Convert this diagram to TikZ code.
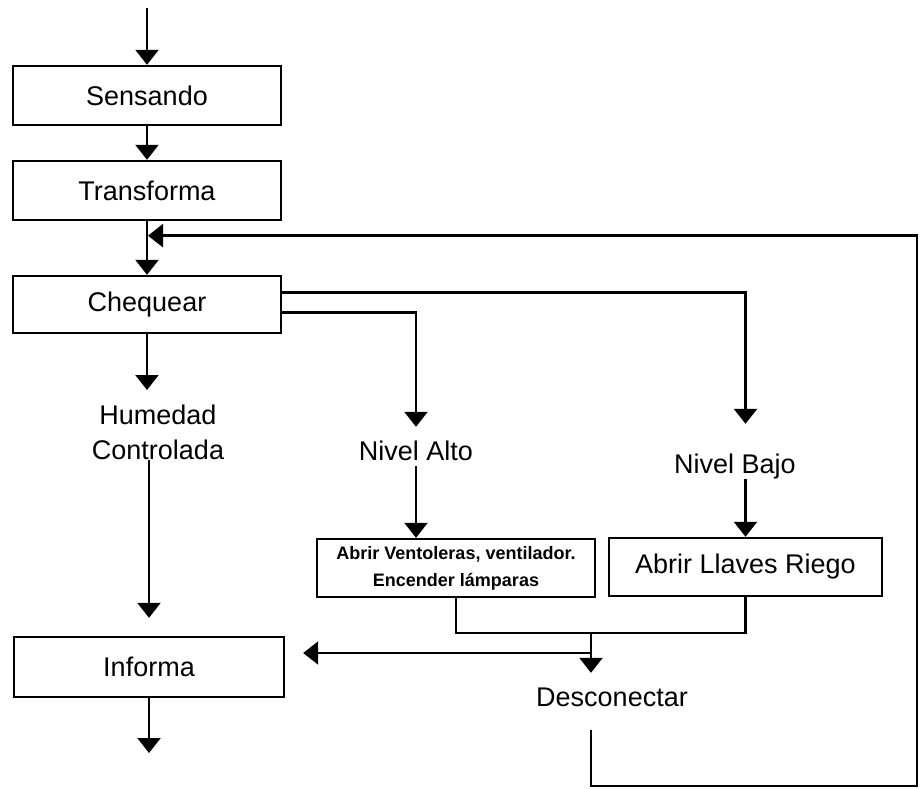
\documentclass[tikz,border=0pt]{standalone}
\usepackage{fontspec}
\setmainfont{Liberation Sans}
\usepackage{tikz}
\usetikzlibrary{positioning, arrows.meta, calc}

\begin{document}
\begin{tikzpicture}[x=1pt, y=-1pt,
  line/.style={line width=2.4pt},
  arr/.style={line, -{Triangle[width=23pt,length=15pt]}},
  box/.style={draw, line width=2.4pt, inner sep=0pt, minimum height=58pt,
    font=\fontsize{27}{32}\selectfont},
  txt/.style={inner sep=0pt, text height=20pt, text depth=6pt,
    font=\fontsize{27}{32}\selectfont}]
\useasboundingbox (0,0) rectangle (923,789);

% cajas
\node[box, minimum width=268pt, minimum height=59pt] (sens) at (147,95.5) {Sensando};
\node[box, minimum width=268pt, minimum height=59pt] (trans) at (147,190.5) {Transforma};
\node[box, minimum width=268pt, minimum height=57pt] (cheq) at (147,304.5) {Chequear};
\node[box, minimum width=270pt, minimum height=60pt] (inf) at (149,667) {Informa};
\node[box, minimum width=278pt, font=\bfseries\fontsize{18}{27}\selectfont, align=center]
  (vent) at (456,568) {Abrir Ventoleras, ventilador.\\Encender lámparas};
\node[box, minimum width=273pt] (llaves) at (745.5,567) {Abrir Llaves Riego};

% textos
\node[inner sep=0pt, anchor=north, align=center, font=\fontsize{27}{35}\selectfont]
  (hum) at (158,405) {Humedad\\Controlada};
\node[txt] (alto) at (416,453) {Nivel Alto};
\node[txt] (bajo) at (735,466) {Nivel Bajo};
\node[txt] (desc) at (612,699) {Desconectar};

% puntos auxiliares
\coordinate (in) at (147,8);
\coordinate (out) at (149,753);
\coordinate (join) at ($(trans.south)!0.27!(cheq.north)$);
\coordinate (merge) at (591,633);
\coordinate (split) at (591,653);
\coordinate (fb) at (917,786);

% flujo principal
\draw[arr] (in) -- (sens);
\draw[arr] (sens) -- (trans);
\draw[arr] (trans) -- (cheq);
\draw[arr, shorten >=15pt] (cheq) -- (cheq.south |- hum.north);
\draw[arr, shorten >=18pt] (hum.south -| inf.north) -- (inf);
\draw[arr] (inf) -- (out);

% ramas de chequeo
\draw[arr, shorten >=29pt] ([yshift=12pt]cheq.east) -| (bajo.north -| llaves.north);
\draw[arr, shorten >=13pt] ([yshift=-8pt]cheq.east) -| (alto.north);
\draw[arr] (alto.south) -- (alto.south |- vent.north);
\draw[arr] (bajo.south -| llaves.north) -- (llaves);

% union y desconexion
\draw[line] (vent.south) |- (merge) -| (llaves.south);
\draw[arr, shorten >=13pt] (merge) -- (merge |- desc.north);
\draw[arr, shorten >=18pt] (split) -- (split -| inf.east);
\draw[arr, shorten <=18pt] (merge |- desc.south) |- (fb) |- ([xshift=1pt]join);
\end{tikzpicture}
\end{document}
